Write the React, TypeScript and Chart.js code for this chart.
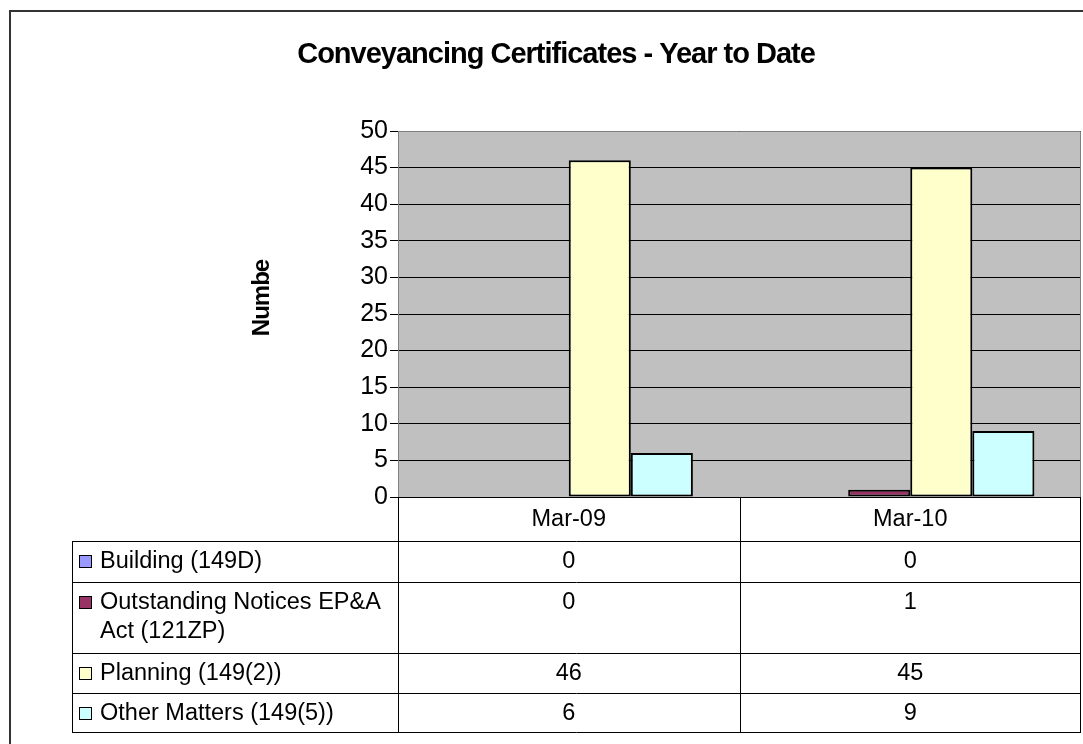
import React, { useEffect, useRef } from 'react';
import { Chart, registerables } from 'chart.js';

Chart.register(...registerables);

// ---- data ----
const categories = ['Mar-09', 'Mar-10'];
const seriesNames = [
  'Building (149D)',
  'Outstanding Notices EP&A Act (121ZP)',
  'Planning (149(2))',
  'Other Matters (149(5))',
];
const legendLines = [
  ['Building (149D)'],
  ['Outstanding Notices EP&A', 'Act (121ZP)'],
  ['Planning (149(2))'],
  ['Other Matters (149(5))'],
];
const building = [0, 0];
const outstanding = [0, 1];
const planning = [46, 45];
const otherMatters = [6, 9];
const seriesColors = ['#9999FF', '#993366', '#FFFFCC', '#CCFFFF'];
const chartTitle = 'Conveyancing Certificates - Year to Date';
const yAxisTitle = 'Numbe';

const FONT = '"Liberation Sans", Arial, sans-serif';

const tablePlugin = {
  id: 'excelTable',
  beforeDraw(chart: any) {
    const { ctx, chartArea: a } = chart;
    ctx.save();
    ctx.fillStyle = '#C0C0C0';
    ctx.fillRect(a.left, a.top, a.right - a.left, a.bottom - a.top);
    ctx.restore();
  },
  afterDraw(chart: any) {
    const { ctx, chartArea: a } = chart;
    const xs = chart.scales.x;
    const datasets = chart.data.datasets;
    ctx.save();

    // plot border
    ctx.strokeStyle = '#808080';
    ctx.lineWidth = 1;
    ctx.beginPath();
    ctx.moveTo(a.left + 0.5, a.top + 0.5);
    ctx.lineTo(a.right - 0.5, a.top + 0.5);
    ctx.lineTo(a.right - 0.5, a.bottom);
    ctx.stroke();

    // data table
    const tableLeft = 72;
    const tableRight = a.right - 1;
    const headerTop = a.bottom;
    const rowBounds = [a.bottom + 44, a.bottom + 85, a.bottom + 156, a.bottom + 196, a.bottom + 235];
    const tableBottom = rowBounds[rowBounds.length - 1];

    ctx.strokeStyle = '#000';
    ctx.lineWidth = 1;
    ctx.beginPath();
    const catEdges: number[] = [a.left];
    for (let i = 0; i < categories.length; i++) {
      const c = xs.getPixelForValue(i);
      const half = (a.right - a.left) / categories.length / 2;
      catEdges.push(Math.round(c + half));
    }
    catEdges[catEdges.length - 1] = tableRight;
    catEdges.forEach((x) => {
      ctx.moveTo(Math.round(x) + 0.5, headerTop);
      ctx.lineTo(Math.round(x) + 0.5, tableBottom + 0.5);
    });
    ctx.moveTo(tableLeft + 0.5, rowBounds[0]);
    ctx.lineTo(tableLeft + 0.5, tableBottom + 0.5);
    rowBounds.forEach((y) => {
      ctx.moveTo(tableLeft, y + 0.5);
      ctx.lineTo(tableRight + 1, y + 0.5);
    });
    ctx.stroke();

    ctx.fillStyle = '#000';
    ctx.font = `23.5px ${FONT}`;
    ctx.textBaseline = 'middle';
    ctx.textAlign = 'center';
    categories.forEach((cat, i) => {
      ctx.fillText(cat, xs.getPixelForValue(i), (headerTop + rowBounds[0]) / 2 + 1);
    });

    datasets.forEach((ds: any, r: number) => {
      const top = rowBounds[r];
      const firstLineY = top + 21;
      // legend key
      ctx.fillStyle = ds.backgroundColor;
      ctx.fillRect(79.5, firstLineY - 6.5, 12, 12);
      ctx.strokeStyle = '#000';
      ctx.strokeRect(79.5, firstLineY - 6.5, 12, 12);
      ctx.fillStyle = '#000';
      ctx.textAlign = 'left';
      legendLines[r].forEach((line, li) => {
        ctx.fillText(line, 100, firstLineY + li * 29);
      });
      ctx.textAlign = 'center';
      ds.data.forEach((v: number, i: number) => {
        ctx.fillText(String(v), xs.getPixelForValue(i), firstLineY);
      });
    });

    // y axis title
    ctx.save();
    ctx.translate(262, (a.top + a.bottom) / 2 - 16);
    ctx.rotate(-Math.PI / 2);
    ctx.font = `bold 24px ${FONT}`;
    (ctx as any).letterSpacing = '-1px';
    ctx.textAlign = 'center';
    ctx.textBaseline = 'middle';
    ctx.fillText(yAxisTitle, 0, 0);
    ctx.restore();

    // chart title
    ctx.font = `bold 29px ${FONT}`;
    (ctx as any).letterSpacing = '-1px';
    ctx.textAlign = 'center';
    ctx.textBaseline = 'middle';
    ctx.fillText(chartTitle, 556, 55);
    (ctx as any).letterSpacing = '0px';

    // outer frame
    ctx.strokeStyle = '#333';
    ctx.lineWidth = 2;
    ctx.beginPath();
    ctx.moveTo(10, 760);
    ctx.lineTo(10, 11);
    ctx.lineTo(1100, 11);
    ctx.stroke();

    ctx.restore();
  },
};

export default function App() {
  const ref = useRef<HTMLCanvasElement | null>(null);
  useEffect(() => {
    if (!ref.current) return;
    const allSeries = [building, outstanding, planning, otherMatters];
    const chart = new Chart(ref.current, {
      type: 'bar',
      data: {
        labels: categories,
        datasets: allSeries.map((d, i) => ({
          label: seriesNames[i],
          data: d,
          backgroundColor: seriesColors[i],
          borderColor: '#000',
          borderWidth: 2,
          borderSkipped: false,
          barPercentage: 1,
          categoryPercentage: 0.727,
        })),
      },
      options: {
        animation: false,
        responsive: false,
        maintainAspectRatio: false,
        layout: { padding: { top: 131, left: 0, right: 2, bottom: 247 } },
        plugins: {
          legend: { display: false },
          title: { display: false },
          tooltip: { enabled: false },
        },
        scales: {
          x: { display: false },
          y: {
            min: 0,
            max: 50,
            ticks: {
              stepSize: 5,
              color: '#000',
              padding: 2,
              font: { family: FONT, size: 25 },
            },
            grid: {
              color: '#000',
              lineWidth: 1,
              drawTicks: true,
              tickLength: 8,
              tickColor: '#000',
            },
            border: { display: true, color: '#808080' },
            afterFit: (scale: any) => {
              scale.width = 398;
            },
          },
        },
      },
      plugins: [tablePlugin],
    });
    return () => chart.destroy();
  }, []);
  return (
    <div style={{ position: 'fixed', left: 0, top: 0, width: 1083, height: 744, background: '#fff' }}>
      <canvas ref={ref} width={1083} height={744} style={{ display: 'block', width: 1083, height: 744 }} />
    </div>
  );
}
